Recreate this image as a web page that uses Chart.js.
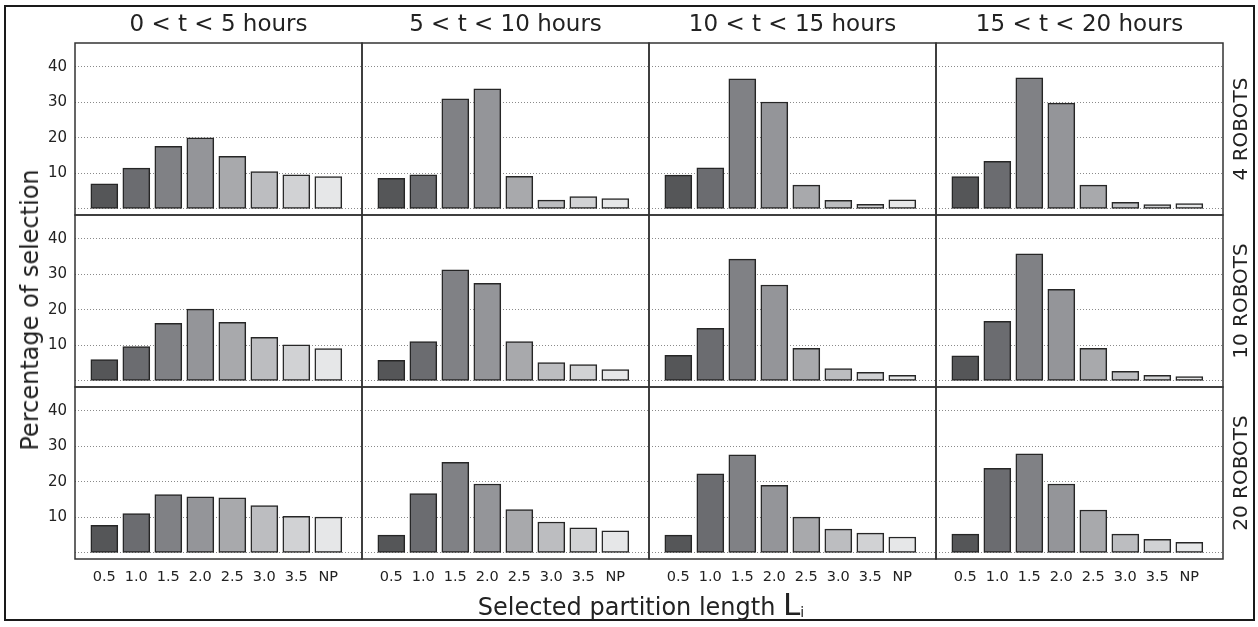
<!DOCTYPE html>
<html lang="en">
<head>
<meta charset="UTF-8">
<title>Selected partition length</title>
<script src="https://cdn.jsdelivr.net/npm/chart.js"></script>
<style>
  body { margin: 0; background: #fff; font-family: "DejaVu Sans", sans-serif; color: #222; }
  #fig { position: relative; width: 1258px; height: 627px; overflow: hidden; }
  #frame { position: absolute; left: 4px; top: 5px; width: 1247px; height: 612px; border: 2px solid #1a1a1a; }
  #fig canvas { position: absolute; }
  .vlab { position: absolute; white-space: nowrap; transform: translate(-50%, -50%) rotate(-90deg); }
  .rowlab { font-size: 20px; }
  #ytitle { font-size: 24px; }
  #xtitle { position: absolute; white-space: nowrap; font-size: 24px; transform: translate(-50%, -50%); }
  #xtitle .big { font-size: 31px; }
  #xtitle sub { font-size: 14px; vertical-align: -2px; }
</style>
</head>
<body>
<div id="fig">
  <div id="frame"></div>
</div>

<script>
  // x categories, column titles, row titles
  const lengths = ['0.5', '1.0', '1.5', '2.0', '2.5', '3.0', '3.5', 'NP'];
  const periods = ['0 < t < 5 hours', '5 < t < 10 hours', '10 < t < 15 hours', '15 < t < 20 hours'];
  const teams = ['4 ROBOTS', '10 ROBOTS', '20 ROBOTS'];
  const yTicks = [0, 10, 20, 30, 40];

  // percentage of selection, one list per time period
  const robots4 = [
    [7.1, 11.5, 17.6, 20.0, 14.8, 10.5, 9.6, 9.1],
    [8.6, 9.6, 31.0, 33.8, 9.2, 2.5, 3.5, 2.9],
    [9.5, 11.6, 36.6, 30.1, 6.7, 2.4, 1.3, 2.6],
    [9.1, 13.4, 36.9, 29.8, 6.7, 1.9, 1.2, 1.5]
  ];
  const robots10 = [
    [6.0, 9.7, 16.2, 20.2, 16.5, 12.3, 10.2, 9.1],
    [5.8, 11.1, 31.3, 27.5, 11.1, 5.2, 4.6, 3.2],
    [7.2, 14.8, 34.3, 27.0, 9.2, 3.5, 2.4, 1.6],
    [7.1, 16.8, 35.8, 25.8, 9.2, 2.7, 1.6, 1.2]
  ];
  const robots20 = [
    [7.8, 11.1, 16.4, 15.8, 15.5, 13.3, 10.3, 10.1],
    [5.0, 16.7, 25.5, 19.4, 12.2, 8.7, 7.1, 6.2],
    [5.0, 22.3, 27.6, 19.0, 10.1, 6.7, 5.6, 4.5],
    [5.3, 23.8, 27.9, 19.4, 12.1, 5.3, 3.8, 3.0]
  ];
  const rows = [robots4, robots10, robots20];

  const barColors = ['#555658', '#6b6c70', '#808185', '#949599', '#a8a9ac', '#bcbdc0', '#d1d2d4', '#e6e7e8'];
  const font = '"DejaVu Sans", sans-serif';

  // panel grid in page pixels
  const plotLeft = 75, plotTop = 43, plotW = 287, plotH = 172;
  const tickW = 50, titleH = 43, tickH = 35, pad = 3;

  // panel border
  const framePlugin = {
    id: 'panelFrame',
    afterDatasetsDraw(chart) {
      const { ctx, chartArea: a } = chart;
      ctx.save();
      ctx.strokeStyle = '#333';
      ctx.lineWidth = 1.5;
      ctx.strokeRect(a.left, a.top, a.width, a.height);
      ctx.restore();
    }
  };

  const fig = document.getElementById('fig');

  rows.forEach((series, r) => {
    series.forEach((vals, c) => {
      const ml = c === 0 ? tickW : pad;
      const mt = r === 0 ? titleH : pad;
      const mb = r === 2 ? tickH : pad;
      const cv = document.createElement('canvas');
      cv.width = plotW + ml + pad;
      cv.height = plotH + mt + mb;
      cv.style.left = (plotLeft + c * plotW - ml) + 'px';
      cv.style.top = (plotTop + r * plotH - mt) + 'px';
      fig.appendChild(cv);

      new Chart(cv, {
        type: 'bar',
        data: {
          datasets: [{
            data: vals.map((v, i) => ({ x: i, y: v })),
            backgroundColor: barColors,
            borderColor: '#262626',
            borderWidth: 1.5,
            borderSkipped: false,
            barThickness: 27
          }]
        },
        options: {
          responsive: false,
          animation: false,
          devicePixelRatio: 1,
          layout: {
            padding: { left: c === 0 ? 0 : pad, right: pad, top: r === 0 ? 0 : pad, bottom: r === 2 ? 0 : pad }
          },
          plugins: {
            legend: { display: false },
            tooltip: { enabled: false },
            title: {
              display: r === 0,
              text: periods[c],
              fullSize: false,
              color: '#222',
              font: { family: font, size: 23, weight: 'normal', lineHeight: 1.2 },
              padding: { top: 11.7, bottom: 3.7 }
            }
          },
          scales: {
            x: {
              type: 'linear',
              offset: false,
              min: -0.916,
              max: 8.053,
              grid: { display: false, offset: false },
              border: { display: false },
              afterBuildTicks: s => { s.ticks = lengths.map((_, i) => ({ value: i })); },
              afterFit: s => {
                s.height = r === 2 ? tickH : 0;
                s.paddingLeft = 0;
                s.paddingRight = 0;
              },
              ticks: {
                display: r === 2,
                autoSkip: false,
                maxRotation: 0,
                padding: 2,
                color: '#222',
                font: { family: font, size: 14.5 },
                callback: v => lengths[v]
              }
            },
            y: {
              min: -1.7,
              max: 46.7,
              afterBuildTicks: s => { s.ticks = yTicks.map(v => ({ value: v })); },
              afterFit: s => {
                s.width = c === 0 ? tickW : 0;
                s.paddingTop = 0;
                s.paddingBottom = 0;
              },
              grid: { color: '#8a8a8a', lineWidth: 1, drawTicks: false },
              border: { display: false, dash: [1, 2] },
              ticks: {
                display: c === 0,
                padding: 8,
                color: '#222',
                font: { family: font, size: 15 },
                callback: v => (v === 0 ? '' : v)
              }
            }
          }
        },
        plugins: [framePlugin]
      });
    });
  });

  // row labels on the right
  teams.forEach((t, r) => {
    const d = document.createElement('div');
    d.className = 'vlab rowlab';
    d.textContent = t;
    d.style.left = '1240px';
    d.style.top = (plotTop + r * plotH + plotH / 2) + 'px';
    fig.appendChild(d);
  });

  const yt = document.createElement('div');
  yt.className = 'vlab';
  yt.id = 'ytitle';
  yt.textContent = 'Percentage of selection';
  yt.style.left = '30px';
  yt.style.top = '310px';
  fig.appendChild(yt);

  const xt = document.createElement('div');
  xt.id = 'xtitle';
  xt.innerHTML = 'Selected partition length <span class="big">L</span><sub>i</sub>';
  xt.style.left = '641px';
  xt.style.top = '604px';
  fig.appendChild(xt);
</script>
</body>
</html>
